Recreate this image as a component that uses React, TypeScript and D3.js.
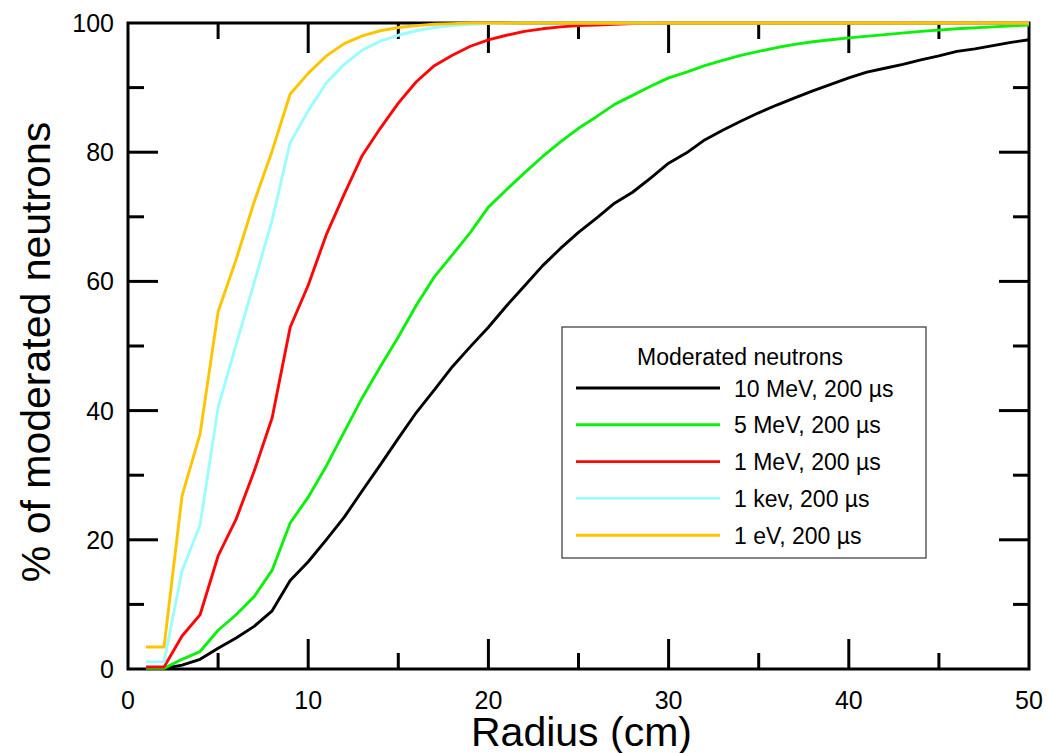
import * as d3 from "d3";

// radius (cm) and % of moderated neutrons
const radius10MeV = [1, 2, 3, 4, 5, 6, 7, 8, 9, 10, 11, 12, 13, 14, 15, 16, 17, 18, 19, 20, 21, 22, 23, 24, 25, 26, 27, 28, 29, 30, 31, 32, 33, 34, 35, 36, 37, 38, 39, 40, 41, 42, 43, 44, 45, 46, 47, 48, 49, 50];
const pct10MeV = [0.1, 0.1, 0.6, 1.5, 3.2, 4.8, 6.6, 9.0, 13.7, 16.6, 20.0, 23.5, 27.6, 31.6, 35.7, 39.7, 43.2, 46.8, 49.9, 52.9, 56.2, 59.3, 62.4, 65.1, 67.6, 69.8, 72.1, 73.8, 76.0, 78.3, 79.9, 81.9, 83.4, 84.8, 86.1, 87.3, 88.4, 89.5, 90.5, 91.5, 92.4, 93.0, 93.6, 94.3, 94.9, 95.6, 96.0, 96.5, 97.0, 97.4];

const radius5MeV = [1, 2, 3, 4, 5, 6, 7, 8, 9, 10, 11, 12, 13, 14, 15, 16, 17, 18, 19, 20, 21, 22, 23, 24, 25, 26, 27, 28, 29, 30, 31, 32, 33, 34, 35, 36, 37, 38, 39, 40, 42, 44, 46, 48, 50];
const pct5MeV = [0.1, 0.1, 1.5, 2.7, 6.0, 8.4, 11.2, 15.3, 22.6, 26.6, 31.4, 36.7, 42.0, 46.8, 51.4, 56.3, 60.7, 64.1, 67.6, 71.5, 74.2, 76.8, 79.3, 81.6, 83.7, 85.5, 87.4, 88.8, 90.2, 91.5, 92.4, 93.4, 94.2, 95.0, 95.6, 96.2, 96.7, 97.1, 97.4, 97.7, 98.2, 98.7, 99.1, 99.4, 99.7];

const radius1MeV = [1, 2, 3, 4, 5, 6, 7, 8, 9, 10, 11, 12, 13, 14, 15, 16, 17, 18, 19, 20, 21, 22, 23, 24, 25, 26, 27, 28, 30, 50];
const pct1MeV = [0.3, 0.3, 5.1, 8.4, 17.5, 23.2, 30.6, 38.9, 52.9, 59.4, 67.2, 73.5, 79.5, 83.7, 87.6, 90.9, 93.4, 95.0, 96.4, 97.4, 98.1, 98.7, 99.1, 99.4, 99.6, 99.7, 99.8, 99.9, 100, 100];

const radius1keV = [1, 2, 3, 4, 5, 6, 7, 8, 9, 10, 11, 12, 13, 14, 15, 16, 17, 18, 19, 20, 22, 50];
const pct1keV = [1.1, 1.1, 15.2, 22.3, 40.5, 50.2, 59.8, 69.5, 81.5, 86.4, 90.7, 93.6, 95.8, 97.2, 98.1, 98.8, 99.3, 99.6, 99.8, 99.9, 100, 100];

const radius1eV = [1, 2, 3, 4, 5, 6, 7, 8, 9, 10, 11, 12, 13, 14, 15, 16, 17, 18, 19, 50];
const pct1eV = [3.4, 3.4, 26.8, 36.4, 55.3, 63.4, 72.3, 80.2, 89.0, 92.2, 94.9, 96.8, 98.0, 98.8, 99.3, 99.6, 99.8, 99.9, 100, 100];

const seriesLabels = ["10 MeV, 200 µs", "5 MeV, 200 µs", "1 MeV, 200 µs", "1 kev, 200 µs", "1 eV, 200 µs"];
const seriesColors = ["#000000", "#0cf00c", "#ff0606", "#9cfcfc", "#ffc400"];

const xTicks = [0, 10, 20, 30, 40, 50];
const yTicks = [0, 20, 40, 60, 80, 100];

const font = "'Liberation Sans', Arial, Helvetica, sans-serif";

export default function App() {
  const width = 1048, height = 753;
  const left = 128, right = 1029, top = 23, bottom = 669;

  const x = d3.scaleLinear().domain([0, 50]).range([left, right]);
  const y = d3.scaleLinear().domain([0, 100]).range([bottom, top]);

  const series = [
    { r: radius10MeV, p: pct10MeV },
    { r: radius5MeV, p: pct5MeV },
    { r: radius1MeV, p: pct1MeV },
    { r: radius1keV, p: pct1keV },
    { r: radius1eV, p: pct1eV },
  ].map((s, i) => ({
    label: seriesLabels[i],
    color: seriesColors[i],
    points: s.r.map((r, j) => [r, s.p[j]] as [number, number]),
  }));

  const line = d3.line<[number, number]>().x(d => x(d[0])).y(d => y(d[1]));

  const minorX = d3.range(5, 50, 5);
  const minorY = d3.range(10, 100, 10);

  // legend box
  const lg = { x0: 562, y0: 327, x1: 926, y1: 558 };
  const rowY = (i: number) => 388 + i * 36.8;

  return (
    <svg width={width} height={height} style={{ position: "absolute", left: 0, top: 0, background: "#fff" }}>
      {/* ticks, inward on all four sides */}
      <g stroke="#000" strokeWidth={3}>
        {minorX.map(v => {
          const len = v % 10 === 0 ? 30 : 16;
          return (
            <g key={"xt" + v}>
              <line x1={x(v)} x2={x(v)} y1={bottom} y2={bottom - len} />
              <line x1={x(v)} x2={x(v)} y1={top} y2={top + len} />
            </g>
          );
        })}
        {minorY.map(v => {
          const len = v % 20 === 0 ? 30 : 16;
          return (
            <g key={"yt" + v}>
              <line x1={left} x2={left + len} y1={y(v)} y2={y(v)} />
              <line x1={right} x2={right - len} y1={y(v)} y2={y(v)} />
            </g>
          );
        })}
      </g>
      <rect x={left} y={top} width={right - left} height={bottom - top} fill="none" stroke="#000" strokeWidth={3} />

      <g fontFamily={font} fontSize={25} fill="#000">
        {xTicks.map(v => (
          <text key={"xl" + v} x={x(v)} y={709} textAnchor="middle">{v}</text>
        ))}
        {yTicks.map(v => (
          <text key={"yl" + v} x={114} y={y(v) + 9} textAnchor="end">{v}</text>
        ))}
      </g>

      <text x={(left + right) / 2 + 3} y={746} textAnchor="middle" fontFamily={font} fontSize={41}>Radius (cm)</text>
      <text transform={`translate(50,${(top + bottom) / 2 + 6}) rotate(-90)`} textAnchor="middle" fontFamily={font} fontSize={41}>
        % of moderated neutrons
      </text>

      {series.map(s => (
        <path key={s.label} d={line(s.points) ?? ""} fill="none" stroke={s.color} strokeWidth={2.9} strokeLinejoin="round" />
      ))}

      <rect x={lg.x0} y={lg.y0} width={lg.x1 - lg.x0} height={lg.y1 - lg.y0} fill="#fff" stroke="#444" strokeWidth={1.3} />
      <text x={740} y={365} textAnchor="middle" fontFamily={font} fontSize={23}>Moderated neutrons</text>
      {series.map((s, i) => (
        <g key={"lg" + i}>
          <line x1={576} x2={720} y1={rowY(i)} y2={rowY(i)} stroke={s.color} strokeWidth={2.9} />
          <text x={734} y={rowY(i) + 8.5} fontFamily={font} fontSize={23}>{s.label}</text>
        </g>
      ))}
    </svg>
  );
}
